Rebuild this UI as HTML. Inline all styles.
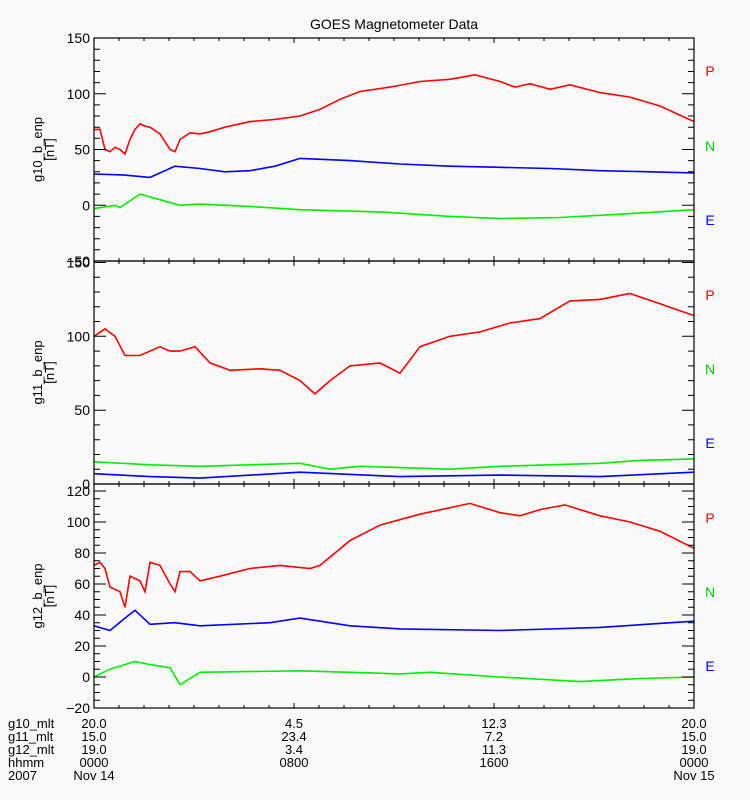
<!DOCTYPE html>
<html><head><meta charset="utf-8"><style>
html,body{margin:0;padding:0;background:#f9f9f9;}
svg{display:block;font-family:"Liberation Sans",sans-serif;}
</style></head><body>
<svg id="chart" width="750" height="800" viewBox="0 0 750 800">
<rect width="750" height="800" fill="#f9f9f9"/>
<text x="394" y="29" font-size="14" text-anchor="middle">GOES Magnetometer Data</text>
<g id="plots"></g>
</svg>
<script>
// hours since 2007-11-14 00:00
const g10Hours = [0,0.24,0.44,0.64,0.84,1.04,1.24,1.44,1.64,1.84,2.04,2.24,2.64,3.04,3.24,3.44,3.84,4.24,4.64,5.24,6.24,7.24,8.24,9.04,9.84,10.64,11.84,13.04,14.24,15.24,16.24,16.84,17.44,18.24,19.04,20.24,21.44,22.64,24];
const g10P = [68,68,50,48,52,50,46,59,68,73,71,70,64,50,48,59,65,64,66,70,75,77,80,86,95,102,106,111,113,117,111,106,109,104,108,101,97,89,75];
const g10BlueHours = [0,1.24,2.24,3.24,4.24,5.24,6.24,7.24,8.24,10.24,12.24,14.24,16.24,18.24,20.24,22.24,24];
const g10E = [28,27,25,35,33,30,31,35,42,40,37,35,34,33,31,30,29];
const g10GreenHours = [0,0.84,1.04,1.84,2.64,3.44,4.24,6.24,8.24,11.44,14.24,16.24,18.64,21.04,24];
const g10N = [-3,0,-2,10,5,0,1,-1,-4,-6,-10,-12,-11,-8,-4];

const g11Hours = [0,0.44,0.84,1.24,1.84,2.24,2.64,3.04,3.44,4.04,4.64,5.44,6.64,7.44,8.24,8.84,9.44,10.24,11.44,12.24,13.04,14.24,15.44,16.64,17.84,19.04,20.24,21.44,22.64,24];
const g11P = [100,105,100,87,87,90,93,90,90,93,82,77,78,77,70,61,70,80,82,75,93,100,103,109,112,124,125,129,122,114];
const g11BlueHours = [0,2.24,4.24,8.24,12.24,16.24,20.24,24];
const g11E = [7,5,4,8,5,6,5,8];
const g11GreenHours = [0,2.24,4.24,8.24,9.44,10.64,14.24,16.24,20.24,21.84,24];
const g11N = [15,13,12,14,10,12,10,12,14,16,17];

const g12Hours = [0,0.24,0.44,0.64,1.04,1.24,1.44,1.84,2.04,2.24,2.64,3.04,3.24,3.44,3.84,4.24,5.04,6.24,7.44,8.64,9.04,10.24,11.44,13.04,15.04,16.24,17.04,17.84,18.84,20.24,21.44,22.64,24];
const g12P = [72,74,70,58,55,45,65,62,55,74,72,60,55,68,68,62,65,70,72,70,72,88,98,105,112,106,104,108,111,104,100,94,83];
const g12BlueHours = [0,0.64,1.24,1.64,2.24,3.24,4.24,7.04,8.24,10.24,12.24,16.24,20.24,24];
const g12E = [33,30,38,43,34,35,33,35,38,33,31,30,32,36];
const g12GreenHours = [0,0.64,1.64,2.24,3.04,3.44,4.24,8.24,10.24,12.24,13.44,16.24,19.44,21.84,24];
const g12N = [0,5,10,8,6,-5,3,4,3,2,3,0,-3,-1,0];

const panels = [
 {name:'g10',title:'g10_b_enp',top:38,bot:261,min:-50,max:150,major:50,minor:10,labels:[150,100,50,0,-50],
  series:[[g10Hours,g10P,'#ff0000'],[g10BlueHours,g10E,'#0000ff'],[g10GreenHours,g10N,'#00ee00']],pne:[71,146,220]},
 {name:'g11',title:'g11_b_enp',top:261,bot:484,min:0,max:151,major:50,minor:10,labels:[150,100,50,0],
  series:[[g11Hours,g11P,'#ff0000'],[g11GreenHours,g11N,'#00ee00'],[g11BlueHours,g11E,'#0000ff']],pne:[295,369,443]},
 {name:'g12',title:'g12_b_enp',top:484,bot:708,min:-20,max:124.5,major:20,minor:5,labels:[120,100,80,60,40,20,0,-20],
  series:[[g12Hours,g12P,'#ff0000'],[g12BlueHours,g12E,'#0000ff'],[g12GreenHours,g12N,'#00ee00']],pne:[518,592,666]}
];
const X0=94, X1=694;
const xs = h => X0 + (X1-X0)*h/24;
const NS='http://www.w3.org/2000/svg';
const root=document.getElementById('plots');
function mk(tag,attrs,parent){const e=document.createElementNS(NS,tag);for(const k in attrs)e.setAttribute(k,attrs[k]);(parent||root).appendChild(e);return e;}

panels.forEach(p=>{
  const ys = v => p.bot - (v-p.min)/(p.max-p.min)*(p.bot-p.top);
  const g=mk('g',{});
  
  
  // series
  p.series.forEach(s=>{
    const pts=s[0].map((h,i)=>xs(h).toFixed(1)+','+ys(s[1][i]).toFixed(1)).join(' ');
    const pl=mk('polyline',{points:pts,fill:'none',stroke:s[2],'stroke-width':1.6},g);
    
    
  });
  // frame
  const fr=mk('rect',{x:X0,y:p.top,width:X1-X0,height:p.bot-p.top,fill:'none',stroke:'#000','stroke-width':1.2},g);
  
  
  // y ticks
  let d='';
  for(let v=Math.ceil(p.min/p.minor)*p.minor; v<=p.max+1e-6; v+=p.minor){
    const y=ys(v).toFixed(1);
    const L=(Math.abs(v%p.major)<1e-6)?12:6;
    d+=`M${X0},${y}h${L}M${X1},${y}h${-L}`;
  }
  for(let h=1;h<24;h++){
    const L=(h%8===0)?5:3;
    const x=xs(h).toFixed(1);
    d+=`M${x},${p.bot}v${-L}M${x},${p.top}v${L}`;
  }
  const tk=mk('path',{d:d,stroke:'#000','stroke-width':1,fill:'none'},g);
  
  
  p.labels.forEach(v=>{
    const t=mk('text',{x:X0-4,y:ys(v)+5,'font-size':14,'text-anchor':'end'},g);
    t.textContent=v<0?'\u2212'+(-v):v;
    
    
  });
  const cy=(p.top+p.bot)/2;
  const t1=mk('text',{x:0,y:0,'font-size':13,'text-anchor':'middle',transform:`translate(42,${cy}) rotate(-90)`},g);
  t1.textContent=p.title;
  
  
  const t2=mk('text',{x:0,y:0,'font-size':13,'text-anchor':'middle',transform:`translate(54,${cy}) rotate(-90)`},g);
  t2.textContent='[nT]';
  
  
  ['P','N','E'].forEach((c,i)=>{
    const t=mk('text',{x:710,y:p.pne[i]+5,'font-size':14,'text-anchor':'middle',fill:['#ff0000','#00cc00','#0000ff'][i]},g);
    t.textContent=c;
    
    
  });
});

const rowNames=['g10_mlt','g11_mlt','g12_mlt','hhmm','2007'];
const tickHours=[0,8,16,24];
const rowValues=[['20.0','4.5','12.3','20.0'],['15.0','23.4','7.2','15.0'],['19.0','3.4','11.3','19.0'],['0000','0800','1600','0000'],['Nov 14','','','Nov 15']];
const rowY=[728,741,754,767,780];
rowNames.forEach((n,r)=>{
  const t=mk('text',{x:8,y:rowY[r],'font-size':13});
  t.textContent=n;
  
  
  tickHours.forEach((h,i)=>{
    if(!rowValues[r][i])return;
    const v=mk('text',{x:xs(h),y:rowY[r],'font-size':13,'text-anchor':'middle'});
    v.textContent=rowValues[r][i];
    
    
  });
});
</script>
</body></html>
